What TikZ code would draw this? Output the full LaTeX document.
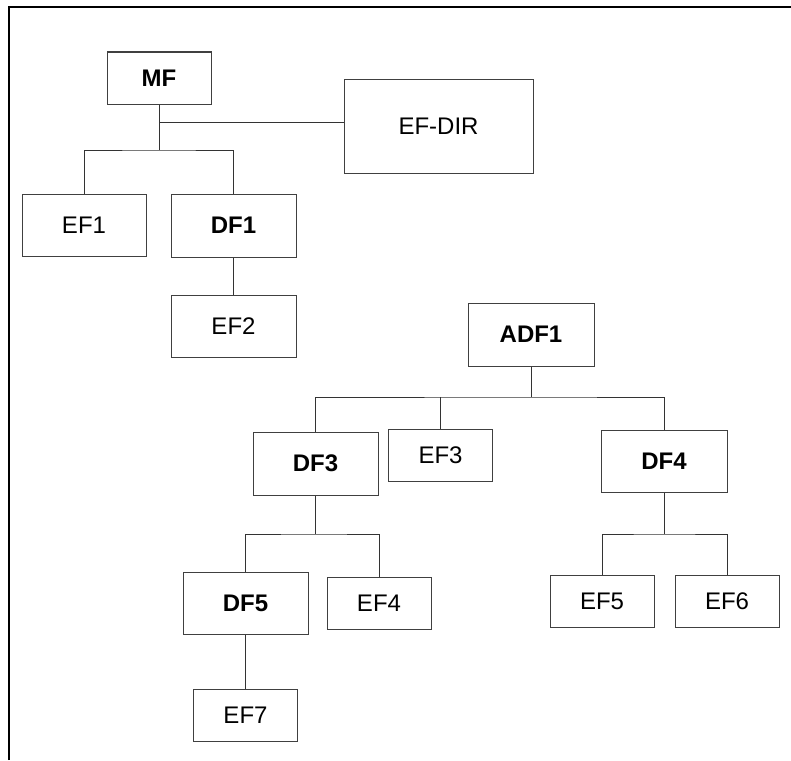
\documentclass[tikz,border=0pt]{standalone}
\usepackage{fontspec}
\setmainfont{Liberation Sans}
\begin{document}
\begin{tikzpicture}[x=1pt,y=-1pt,
  box/.style={draw=black!75, line width=1pt, inner sep=0pt, text=black,
    font=\fontsize{24}{28}\selectfont, minimum width=#1},
  box/.default=104pt,
  bbox/.style={box=#1, font=\fontsize{24}{28}\selectfont\bfseries},
  bbox/.default=125pt,
  conn/.style={draw=black!80, line width=1pt}]
\useasboundingbox (0,0) rectangle (791,760);
\draw[line width=2pt] (9,760) -- (9,7) -- (791,7);

\node[bbox=104pt, minimum height=52pt] (mf) at (159,78) {MF};
\node[box=189pt, minimum height=94pt] (efdir) at (438.5,126) {EF-DIR};
\node[box=124pt, minimum height=62pt] (ef1) at (84,225) {EF1};
\node[bbox=125pt, minimum height=63pt] (df1) at (233.5,225.5) {DF1};
\node[box=125pt, minimum height=62pt] (ef2) at (233.5,326) {EF2};
\node[bbox=126pt, minimum height=63pt] (adf1) at (531,334.5) {ADF1};
\node[bbox=125pt, minimum height=63pt] (df3) at (315.5,463.5) {DF3};
\node[box, minimum height=52pt] (ef3) at (440.5,455) {EF3};
\node[bbox=126pt, minimum height=62pt] (df4) at (664,461) {DF4};
\node[bbox=125pt, minimum height=62pt] (df5) at (245.5,603) {DF5};
\node[box, minimum height=52pt] (ef4) at (379,603) {EF4};
\node[box, minimum height=52pt] (ef7) at (245.5,715) {EF7};
\node[box, minimum height=52pt] (ef5) at (602,601) {EF5};
\node[box, minimum height=52pt] (ef6) at (727,601) {EF6};

\coordinate (j0) at (159,122);
\coordinate (b1) at (159,150);
\coordinate (b2) at (531,397);
\coordinate (b3) at (315.5,534);
\coordinate (b4) at (664,534);

\draw[conn] (mf.south) -- (b1);
\draw[conn] (j0) -- (j0 -| efdir.west);
\draw[conn] (ef1.north) |- (b1) -| (df1.north);
\draw[conn] (df1.south) -- (ef2.north);
\draw[conn] (adf1.south) -- (b2);
\draw[conn] (df3.north) |- (b2) -| (df4.north);
\draw[conn] (ef3.north) -- (ef3.north |- b2);
\draw[conn] (df3.south) -- (b3);
\draw[conn] (df5.north) |- (b3) -| (ef4.north);
\draw[conn] (df5.south) -- (ef7.north);
\draw[conn] (df4.south) -- (b4);
\draw[conn] (ef5.north) |- (b4) -| (ef6.north);
\end{tikzpicture}
\end{document}
